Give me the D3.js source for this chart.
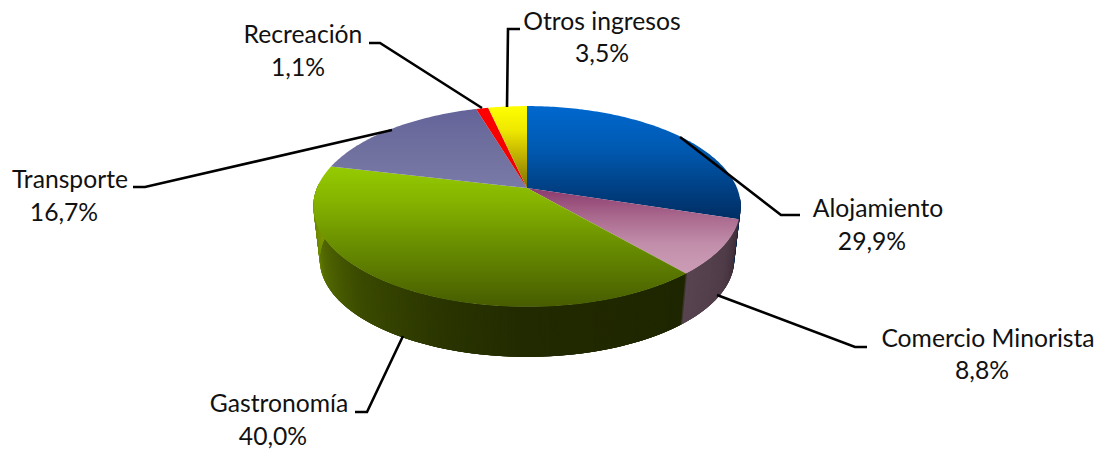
<!DOCTYPE html>
<html><head><meta charset="utf-8">
<script src="https://cdnjs.cloudflare.com/ajax/libs/d3/7.8.5/d3.min.js"></script>
<style>html,body{margin:0;padding:0;background:#fff}svg{display:block}text{font-family:Lato,"Open Sans",sans-serif;font-size:24.7px;fill:#111}</style>
</head><body><svg id="c" width="1101" height="449"></svg>
<script>
const categories = ["Alojamiento","Comercio Minorista","Gastronomía","Transporte","Recreación","Otros ingresos"];
const values = [29.9,8.8,40.0,16.7,1.1,3.5];
const valueLabels = ["29,9%","8,8%","40,0%","16,7%","1,1%","3,5%"];

const svg = d3.select("#c");
const cx = 527, topY = 188, botY = 241.5, R = 210, K = 97, P = 0.184, shrink = 0.97;
function proj(a, base, s){
  const u = Math.sin(a), v = -Math.cos(a), w = 1 - P*v;
  return [cx + s*R*u/w, base + s*K*v/w];
}
const arcs = d3.pie().value(d=>d).sort(null).startAngle(0).endAngle(2*Math.PI)(values);

const topStops = [
  [[106,"#0068cf"],[150,"#0059b0"],[190,"#003f82"],[222,"#002c60"]],
  [[188,"#8a3a6c"],[215,"#a8668c"],[245,"#c28fab"],[273,"#cc9cb6"]],
  [[166,"#95cc00"],[200,"#86b400"],[250,"#668a00"],[307,"#475c00"]],
  [[108,"#63639a"],[150,"#70709f"],[188,"#7a7aa8"]],
  [[108,"#ff0000"],[188,"#e80000"]],
  [[106,"#ffff00"],[130,"#efe800"],[160,"#b8a800"],[188,"#7c7000"]]
];
const defs = svg.append("defs");
topStops.forEach((st,i)=>{
  const [y0,y1]=[st[0][0],st[st.length-1][0]];
  const g=defs.append("linearGradient").attr("id","g"+i).attr("gradientUnits","userSpaceOnUse")
    .attr("x1",0).attr("x2",0).attr("y1",y0).attr("y2",y1);
  st.forEach(s=>g.append("stop").attr("offset",(s[0]-y0)/(y1-y0)).attr("stop-color",s[1]));
});

const sideColor = d3.scaleLinear()
  .domain([95,107.6,107.7,120,139.2,139.3,180,200,225,245,258,272])
  .range(["#00254f","#00254f","#3f2d38","#4f3c48","#584450","#1e2600","#212a00","#2a3500","#3c4c00","#546a00","#6b8600","#7c9800"])
  .clamp(true);

// painter's order with overlapping strips, so no seams show between them
const side = svg.append("g");
d3.range(95,272,0.5).forEach(d=>{
  const a0=d*Math.PI/180, a1=(d+2)*Math.PI/180;
  const pts=[proj(a0,topY,1),proj(a1,topY,1),proj(a1,botY,shrink),proj(a0,botY,shrink)];
  side.append("polygon").attr("points",pts.join(" ")).attr("fill",sideColor(d+.25));
});

const line = d3.line();
svg.append("g").selectAll("path").data(arcs).join("path")
  .attr("d",d=>{
    const pts=[[cx,topY]];
    const n=Math.max(2,Math.ceil((d.endAngle-d.startAngle)*60));
    d3.range(n+1).forEach(i=>pts.push(proj(d.startAngle+(d.endAngle-d.startAngle)*i/n,topY,1)));
    return line(pts)+"Z";
  })
  .attr("fill",(d,i)=>`url(#g${i})`);

const leaders = [
  [[800,215],[781,215],[680,137]],
  [[867,347],[855,347],[717,295]],
  [[355,412],[367,412],[403,336]],
  [[133,187],[145,187],[392,130]],
  [[369,43],[380,43],[482,108]],
  [[520,29],[508,29],[507,107]]
];
svg.append("g").selectAll("path").data(leaders).join("path")
  .attr("d",d=>line(d)).attr("fill","none").attr("stroke","#000").attr("stroke-width",2.6);

const labelPos = [
  [878,217,872,250],
  [988,347,982,379],
  [279,412,273,445],
  [70,188,64,221],
  [303,43,298,76],
  [602,30,602,62]
];
const lab = svg.append("g").attr("text-anchor","middle");
categories.forEach((c,i)=>{
  const p=labelPos[i];
  lab.append("text").attr("x",p[0]).attr("y",p[1]).text(c);
  lab.append("text").attr("x",p[2]).attr("y",p[3]).text(valueLabels[i]);
});
</script></body></html>
